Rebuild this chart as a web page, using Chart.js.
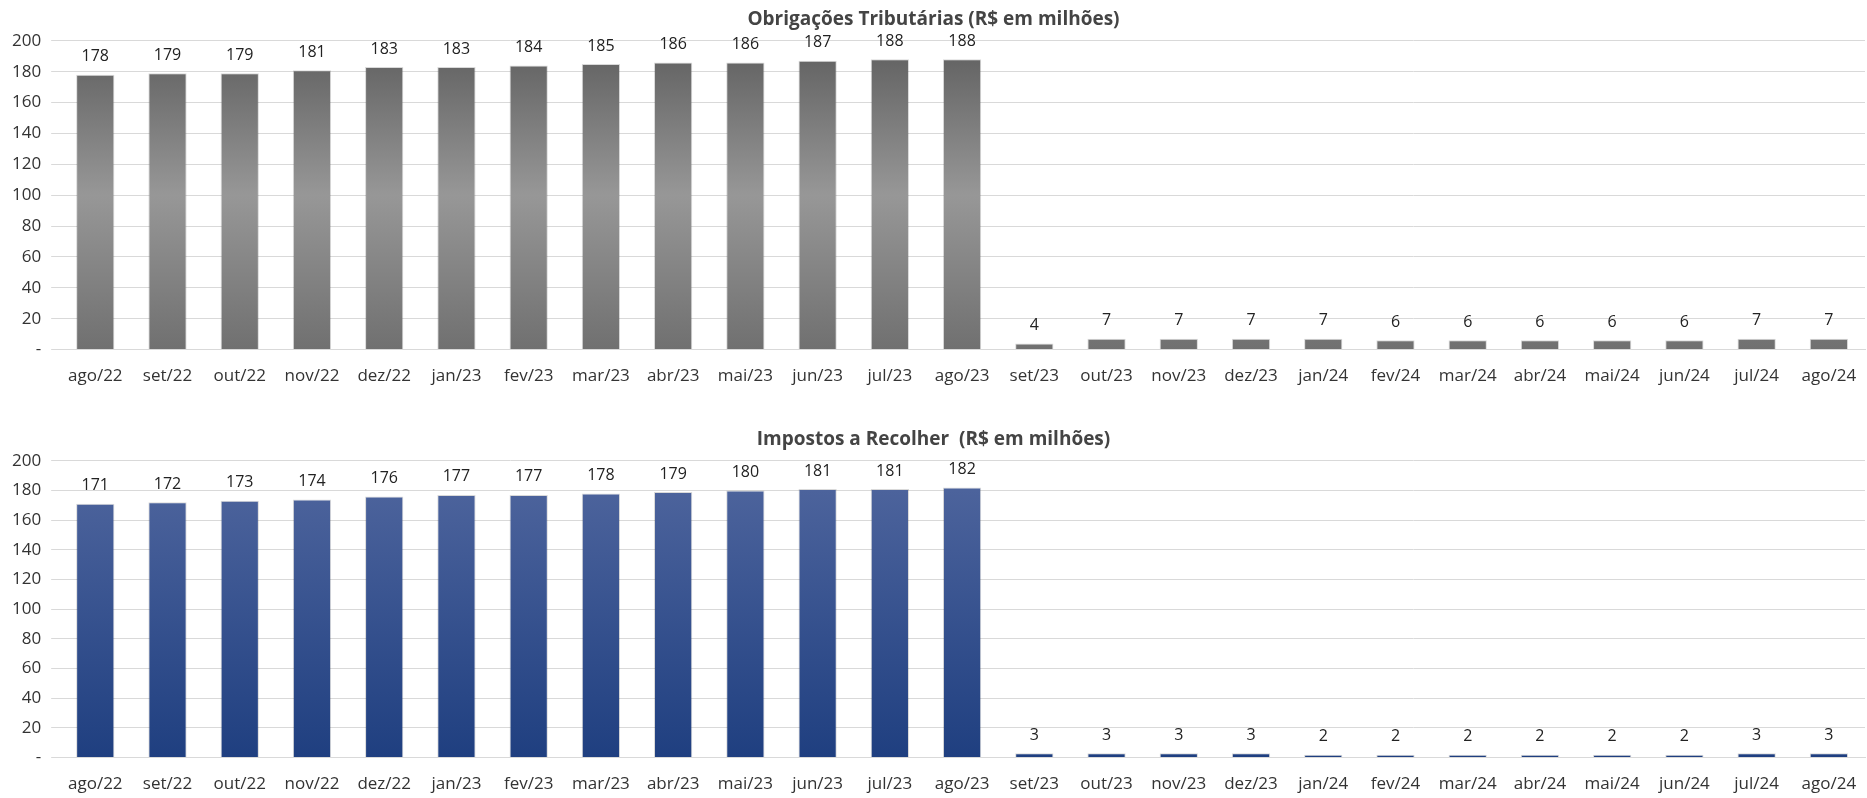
<!DOCTYPE html><html><head><meta charset="utf-8">
<script src="https://cdn.jsdelivr.net/npm/chart.js@4"></script>
<style>body{margin:0;background:#fff;width:1867px;height:798px;position:relative;font-family:"Open Sans"}
.c{position:absolute;left:0;width:1867px;height:390px}</style></head><body>
<div class="c" style="top:4px"><canvas id="a"></canvas></div>
<div class="c" style="top:424px;height:378px"><canvas id="b"></canvas></div>
<script>
const categories=["ago/22","set/22","out/22","nov/22","dez/22","jan/23","fev/23","mar/23","abr/23","mai/23","jun/23","jul/23","ago/23","set/23","out/23","nov/23","dez/23","jan/24","fev/24","mar/24","abr/24","mai/24","jun/24","jul/24","ago/24"];
const obrigacoes=[178,179,179,181,183,183,184,185,186,186,187,188,188,4,7,7,7,7,6,6,6,6,6,7,7];
const impostos=[171,172,173,174,176,177,177,178,179,180,181,181,182,3,3,3,3,2,2,2,2,2,2,3,3];
const yTicks=[0,20,40,60,80,100,120,140,160,180,200];
const labelsPlugin={id:'lbl',afterDatasetsDraw(ch){const c=ch.ctx;const m=ch.getDatasetMeta(0);c.save();c.font='16px "Open Sans"';c.fillStyle='#222';c.textAlign='center';c.textBaseline='bottom';
m.data.forEach((b,i)=>c.fillText(ch.data.datasets[0].data[i],b.x,b.y-10));c.restore();}};
function make(id,title,data,stops){
new Chart(document.getElementById(id),{type:'bar',data:{labels:categories,datasets:[{data,barPercentage:0.53,categoryPercentage:1,
backgroundColor(ctx){const a=ctx.chart.chartArea;if(!a)return stops[0][1];const g=ctx.chart.ctx.createLinearGradient(0,a.bottom,0,a.top);stops.forEach(s=>g.addColorStop(s[0],s[1]));return g;},
borderColor:'rgba(0,0,0,0.15)',borderWidth:1}]},
options:{responsive:true,maintainAspectRatio:false,animation:false,layout:{padding:{left:2,right:2,top:0}},
plugins:{legend:{display:false},tooltip:{enabled:false},title:{display:true,text:title,color:'#444',font:{family:'"Open Sans"',size:19,weight:'bold'},padding:{top:4,bottom:10}}},
scales:{x:{grid:{display:false},border:{color:'#d9d9d9'},ticks:{color:'#333',padding:8,font:{family:'"Open Sans"',size:17},maxRotation:0,autoSkip:false}},
y:{min:0,max:200,afterBuildTicks(ax){ax.ticks=yTicks.map(v=>({value:v}));},grid:{color:'#d9d9d9'},border:{display:false},
ticks:{color:'#333',padding:10,font:{family:'"Open Sans"',size:17},callback:v=>v===0?'-':v}}}},plugins:[labelsPlugin]});}
make('a','Obrigações Tributárias (R$ em milhões)',obrigacoes,[[0,'#707070'],[0.5,'#979797'],[1,'#5e5e5e']]);
make('b','Impostos a Recolher  (R$ em milhões)',impostos,[[0,'#1f3f80'],[1,'#51679f']]);
</script></body></html>
